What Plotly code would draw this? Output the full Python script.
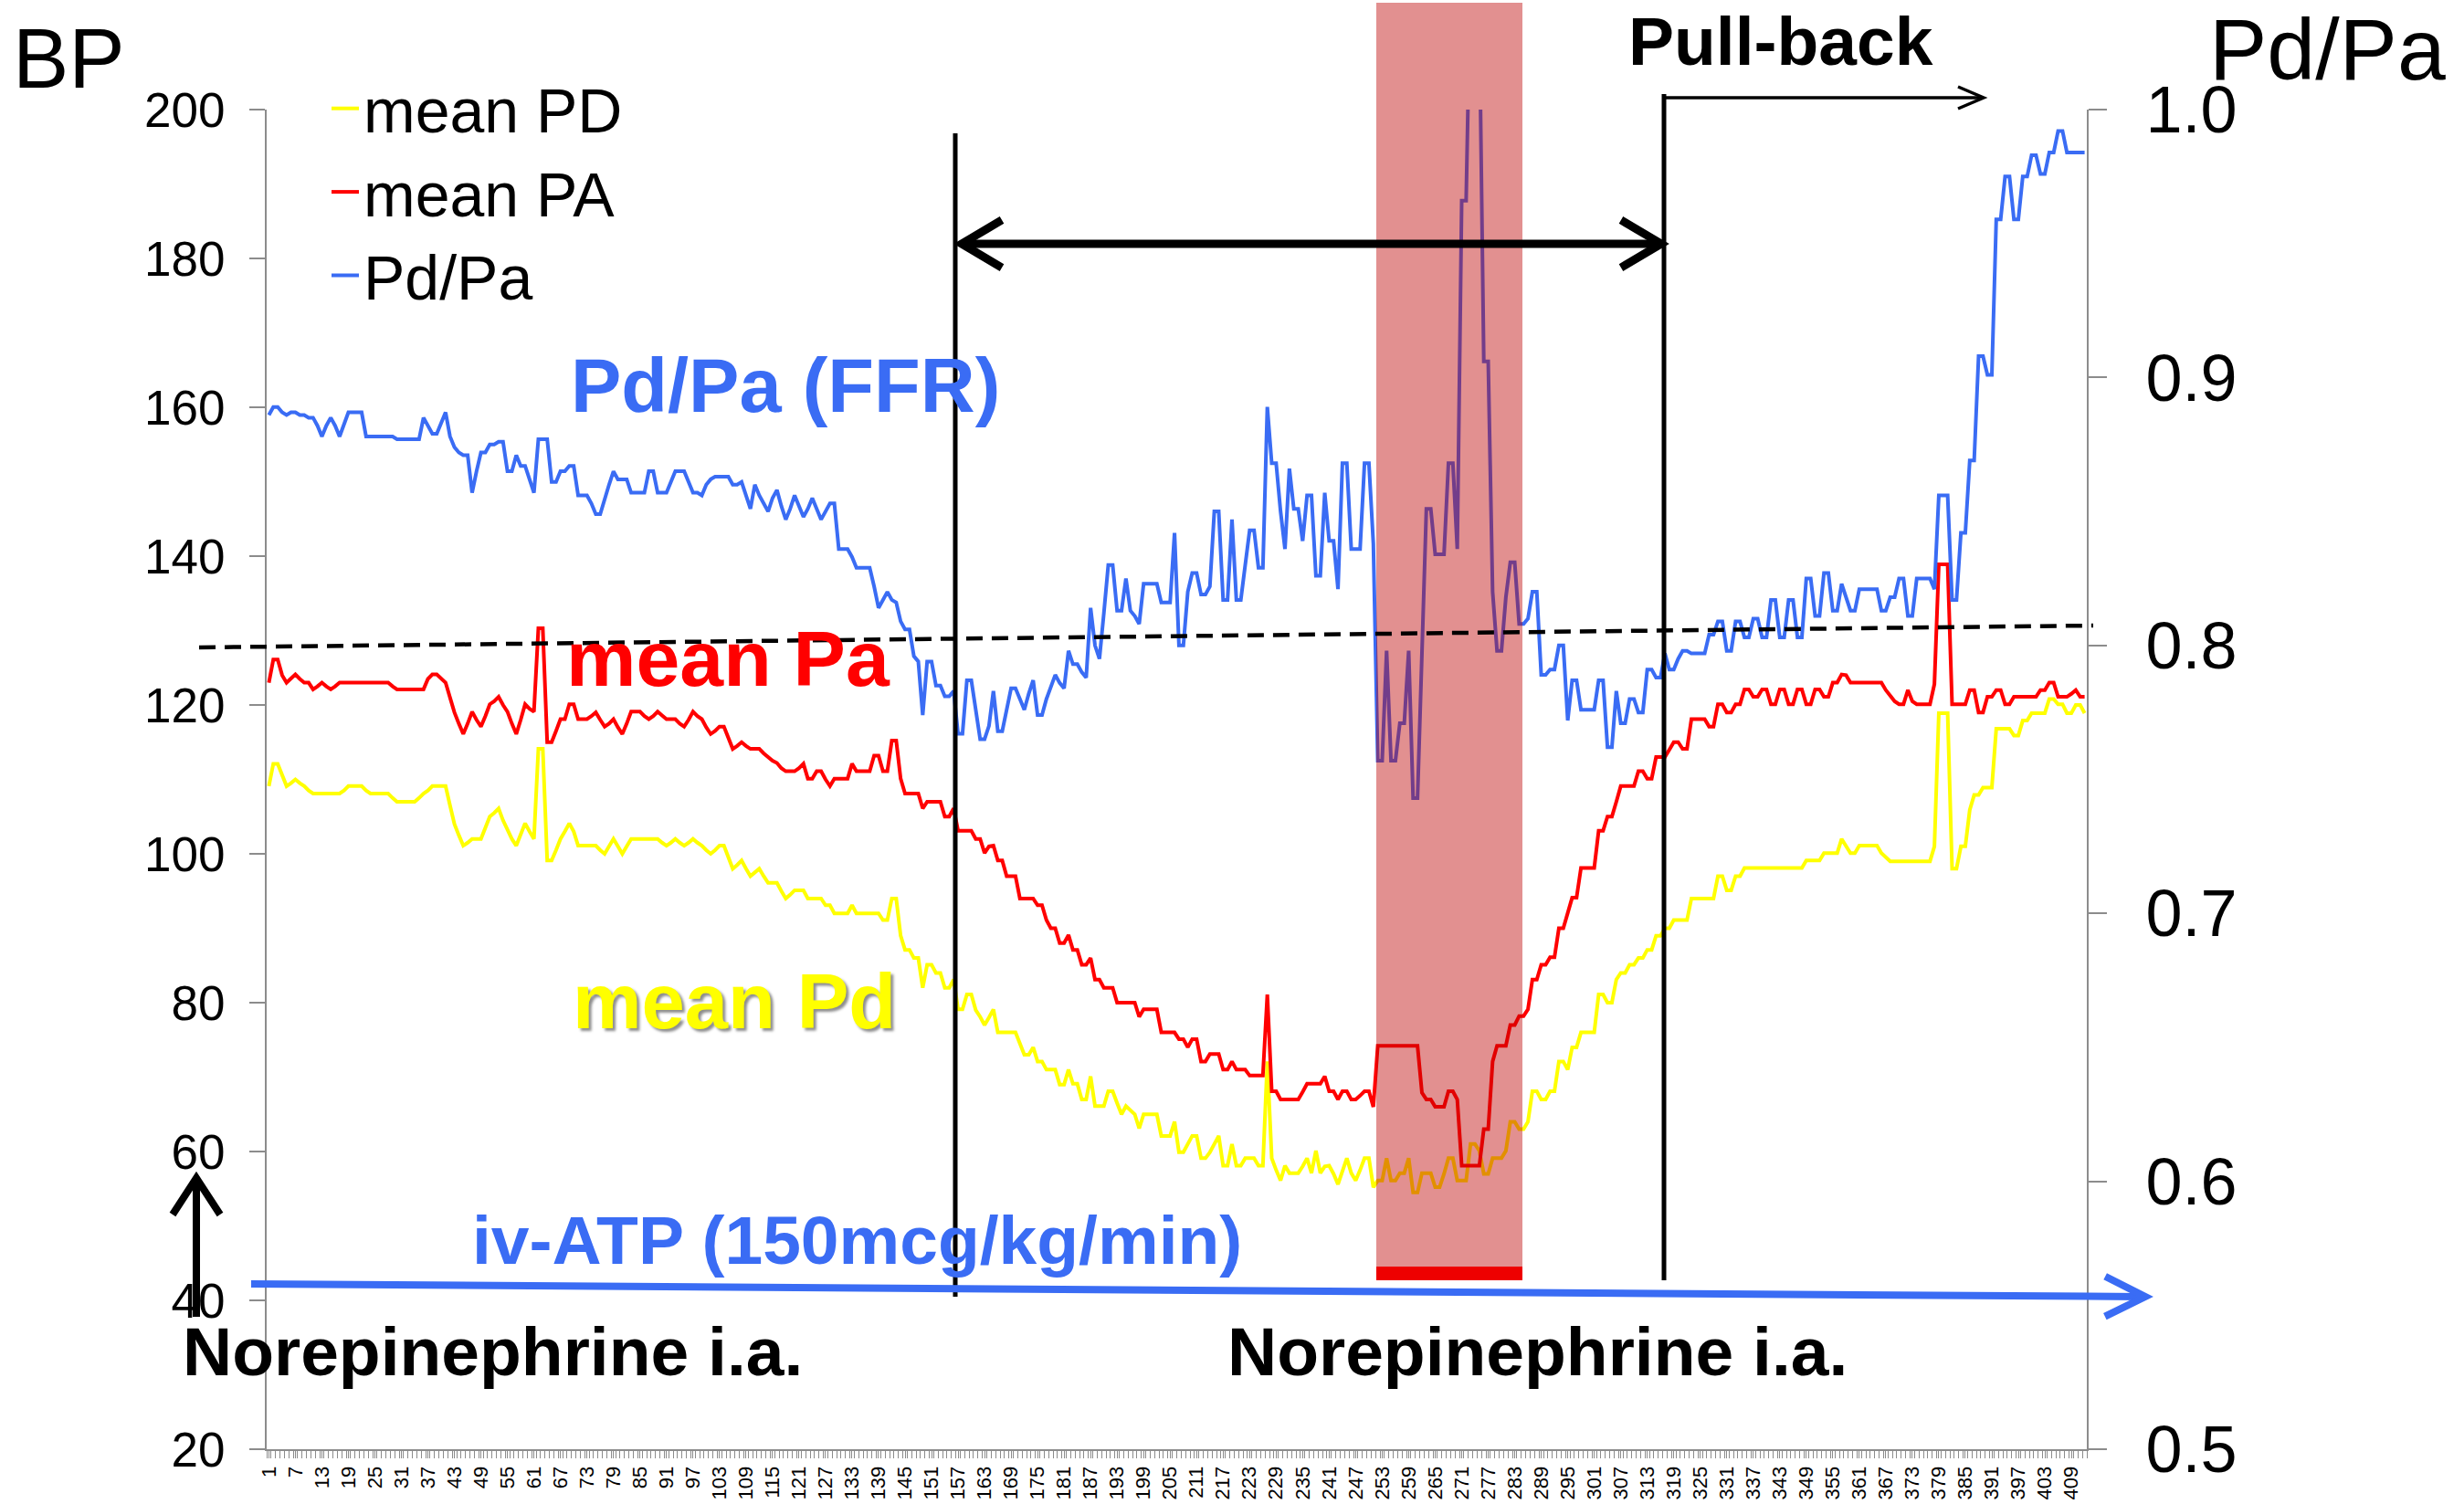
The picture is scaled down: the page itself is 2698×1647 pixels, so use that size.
import plotly.graph_objects as go

# ---------------- data ----------------
CATEGORIES = list(range(1, 413))
TICK_LABELS = [str(v) for v in range(1, 413, 6)]

PD_PA = [
    0.886, 0.889, 0.889, 0.887, 0.886, 0.887, 0.887, 0.886, 0.886, 0.885, 0.885, 0.882, 0.878, 0.882, 0.885, 0.882, 0.878, 0.883, 0.887, 0.887,
    0.887, 0.887, 0.878, 0.878, 0.878, 0.878, 0.878, 0.878, 0.878, 0.877, 0.877, 0.877, 0.877, 0.877, 0.877, 0.885, 0.882, 0.879, 0.879, 0.883,
    0.887, 0.878, 0.874, 0.872, 0.871, 0.871, 0.857, 0.865, 0.872, 0.872, 0.875, 0.875, 0.876, 0.876, 0.865, 0.865, 0.871, 0.867, 0.867, 0.862,
    0.857, 0.877, 0.877, 0.877, 0.861, 0.861, 0.865, 0.865, 0.867, 0.867, 0.856, 0.856, 0.856, 0.853, 0.849, 0.849, 0.855, 0.860, 0.865, 0.862,
    0.862, 0.862, 0.857, 0.857, 0.857, 0.857, 0.865, 0.865, 0.857, 0.857, 0.857, 0.861, 0.865, 0.865, 0.865, 0.861, 0.857, 0.857, 0.856, 0.860,
    0.862, 0.863, 0.863, 0.863, 0.863, 0.860, 0.860, 0.861, 0.856, 0.851, 0.860, 0.856, 0.853, 0.850, 0.855, 0.858, 0.852, 0.847, 0.851, 0.856,
    0.852, 0.848, 0.851, 0.855, 0.851, 0.847, 0.850, 0.853, 0.853, 0.836, 0.836, 0.836, 0.833, 0.829, 0.829, 0.829, 0.829, 0.822, 0.814, 0.817,
    0.820, 0.817, 0.816, 0.809, 0.806, 0.806, 0.796, 0.794, 0.774, 0.794, 0.794, 0.785, 0.785, 0.781, 0.781, 0.783, 0.767, 0.767, 0.787, 0.787,
    0.776, 0.765, 0.765, 0.770, 0.783, 0.768, 0.768, 0.776, 0.784, 0.784, 0.780, 0.776, 0.782, 0.787, 0.774, 0.774, 0.780, 0.785, 0.789, 0.786,
    0.784, 0.798, 0.793, 0.793, 0.790, 0.788, 0.814, 0.800, 0.795, 0.812, 0.830, 0.830, 0.813, 0.813, 0.825, 0.813, 0.811, 0.808, 0.823, 0.823,
    0.823, 0.823, 0.816, 0.816, 0.816, 0.842, 0.800, 0.800, 0.820, 0.827, 0.827, 0.819, 0.819, 0.822, 0.850, 0.850, 0.817, 0.817, 0.847, 0.817,
    0.817, 0.830, 0.843, 0.843, 0.829, 0.829, 0.889, 0.868, 0.868, 0.850, 0.836, 0.866, 0.851, 0.851, 0.839, 0.856, 0.856, 0.826, 0.826, 0.857,
    0.839, 0.839, 0.821, 0.868, 0.868, 0.836, 0.836, 0.836, 0.868, 0.868, 0.838, 0.757, 0.757, 0.798, 0.757, 0.757, 0.771, 0.771, 0.798, 0.743,
    0.743, 0.800, 0.851, 0.851, 0.834, 0.834, 0.834, 0.868, 0.868, 0.836, 0.966, 0.966, 1.050, 1.050, 1.034, 0.906, 0.906, 0.820, 0.798, 0.798,
    0.818, 0.831, 0.831, 0.808, 0.808, 0.810, 0.820, 0.820, 0.789, 0.789, 0.791, 0.791, 0.800, 0.800, 0.772, 0.787, 0.787, 0.776, 0.776, 0.776,
    0.776, 0.787, 0.787, 0.762, 0.762, 0.783, 0.771, 0.771, 0.780, 0.780, 0.775, 0.775, 0.791, 0.791, 0.788, 0.788, 0.797, 0.791, 0.791, 0.795,
    0.798, 0.798, 0.797, 0.797, 0.797, 0.797, 0.804, 0.804, 0.809, 0.809, 0.798, 0.798, 0.809, 0.809, 0.803, 0.803, 0.810, 0.810, 0.803, 0.803,
    0.817, 0.817, 0.803, 0.803, 0.817, 0.817, 0.803, 0.803, 0.825, 0.825, 0.811, 0.811, 0.827, 0.827, 0.813, 0.813, 0.823, 0.818, 0.813, 0.813,
    0.821, 0.821, 0.821, 0.821, 0.821, 0.813, 0.813, 0.818, 0.818, 0.825, 0.825, 0.811, 0.811, 0.825, 0.825, 0.825, 0.825, 0.821, 0.856, 0.856,
    0.856, 0.817, 0.817, 0.842, 0.842, 0.869, 0.869, 0.908, 0.908, 0.901, 0.901, 0.959, 0.959, 0.975, 0.975, 0.959, 0.959, 0.975, 0.975, 0.983,
    0.983, 0.976, 0.976, 0.984, 0.984, 0.992, 0.992, 0.984, 0.984, 0.984, 0.984, 0.984,
]

MEAN_PA = [
    123.0, 126.1, 126.1, 124.0, 123.0, 123.5, 124.1, 123.5, 123.0, 123.0, 122.1, 122.5, 123.0, 122.5, 122.1, 122.5, 123.0, 123.0, 123.0, 123.0,
    123.0, 123.0, 123.0, 123.0, 123.0, 123.0, 123.0, 123.0, 122.5, 122.1, 122.1, 122.1, 122.1, 122.1, 122.1, 122.1, 123.5, 124.1, 124.1, 123.5,
    123.0, 121.0, 119.0, 117.5, 116.1, 117.5, 119.1, 118.0, 117.1, 118.5, 120.1, 120.5, 121.1, 120.0, 119.1, 117.5, 116.1, 118.0, 120.1, 119.5,
    119.1, 130.3, 130.3, 115.0, 115.0, 116.5, 118.1, 118.1, 120.1, 120.1, 118.1, 118.1, 118.1, 118.5, 119.0, 118.0, 117.1, 117.5, 118.1, 117.0,
    116.1, 117.5, 119.1, 119.1, 119.1, 118.5, 118.1, 118.5, 119.1, 118.6, 118.1, 118.1, 118.1, 117.5, 117.1, 118.0, 119.1, 118.5, 118.1, 117.0,
    116.1, 116.5, 117.1, 117.1, 115.5, 114.1, 114.5, 115.0, 114.5, 114.1, 114.1, 114.1, 113.5, 113.0, 112.5, 112.2, 111.5, 111.1, 111.1, 111.1,
    111.5, 112.1, 110.1, 110.1, 111.1, 111.1, 110.0, 109.1, 110.1, 110.1, 110.1, 110.1, 112.1, 111.1, 111.1, 111.1, 111.1, 113.2, 113.2, 111.1,
    111.1, 115.2, 115.2, 110.1, 108.1, 108.1, 108.1, 108.1, 106.1, 107.0, 107.0, 107.0, 107.0, 105.0, 105.0, 106.1, 103.1, 103.1, 103.1, 103.1,
    102.0, 102.0, 100.1, 101.0, 101.1, 99.1, 99.1, 97.0, 97.0, 97.0, 94.0, 94.0, 94.0, 94.0, 93.1, 93.1, 91.1, 90.0, 90.0, 88.0,
    88.0, 89.1, 87.1, 87.1, 85.1, 85.1, 86.0, 83.1, 83.1, 82.0, 82.0, 82.0, 80.0, 80.0, 80.0, 80.0, 80.0, 78.1, 79.1, 79.1,
    79.1, 79.1, 76.0, 76.0, 76.0, 76.0, 75.1, 75.1, 74.0, 75.1, 75.1, 72.1, 72.1, 73.1, 73.1, 73.1, 71.0, 71.0, 72.1, 71.0,
    71.0, 71.0, 70.2, 70.2, 70.2, 70.2, 81.1, 68.1, 68.1, 67.0, 67.0, 67.0, 67.0, 67.0, 68.0, 69.1, 69.1, 69.1, 69.1, 70.1,
    68.1, 68.1, 67.0, 68.1, 68.1, 67.0, 67.0, 67.5, 68.1, 68.1, 66.0, 74.2, 74.2, 74.2, 74.2, 74.2, 74.2, 74.2, 74.2, 74.2,
    74.2, 67.9, 67.0, 67.0, 66.0, 66.0, 66.0, 68.1, 68.1, 67.0, 58.1, 58.1, 58.1, 58.1, 58.1, 63.0, 63.0, 72.1, 74.2, 74.2,
    74.2, 77.0, 77.0, 78.2, 78.2, 79.1, 83.1, 83.1, 85.1, 85.1, 86.1, 86.1, 90.0, 90.0, 92.0, 94.1, 94.1, 98.1, 98.1, 98.1,
    98.1, 103.1, 103.1, 105.0, 105.0, 107.0, 109.1, 109.1, 109.1, 109.1, 111.1, 111.1, 110.1, 110.1, 113.0, 113.0, 113.0, 114.0, 115.0, 115.0,
    114.1, 114.1, 118.1, 118.1, 118.1, 118.1, 117.1, 117.1, 120.1, 120.1, 119.0, 119.0, 120.1, 120.1, 122.1, 122.1, 121.1, 121.1, 122.1, 122.1,
    120.1, 120.1, 122.1, 122.1, 120.1, 120.1, 122.1, 122.1, 120.1, 120.1, 122.1, 122.1, 121.1, 121.1, 123.0, 123.0, 124.1, 124.0, 123.0, 123.0,
    123.0, 123.0, 123.0, 123.0, 123.0, 123.0, 122.0, 121.3, 120.5, 120.1, 120.1, 122.0, 120.5, 120.1, 120.1, 120.1, 120.1, 122.8, 138.9, 138.9,
    138.9, 120.1, 120.1, 120.1, 120.1, 122.0, 122.0, 119.0, 119.0, 121.1, 121.1, 122.0, 122.0, 120.1, 120.1, 121.1, 121.1, 121.1, 121.1, 121.1,
    121.1, 122.0, 122.0, 123.0, 123.0, 121.1, 121.1, 121.1, 121.5, 122.0, 121.1, 121.1,
]

MEAN_PD = [
    109.1, 112.1, 112.1, 110.5, 109.1, 109.5, 110.0, 109.5, 109.1, 108.5, 108.1, 108.1, 108.1, 108.1, 108.1, 108.1, 108.1, 108.5, 109.1, 109.1,
    109.1, 109.1, 108.5, 108.1, 108.1, 108.1, 108.1, 108.1, 107.5, 107.0, 107.0, 107.0, 107.0, 107.0, 107.5, 108.1, 108.5, 109.1, 109.1, 109.1,
    109.1, 106.5, 104.0, 102.5, 101.1, 101.5, 102.0, 102.0, 102.0, 103.5, 105.0, 105.5, 106.1, 104.5, 103.1, 102.0, 101.1, 102.5, 104.1, 103.0,
    102.0, 114.1, 114.1, 99.1, 99.1, 100.5, 102.0, 103.0, 104.1, 103.0, 101.1, 101.1, 101.1, 101.1, 101.1, 100.5, 100.0, 101.0, 102.0, 101.0,
    100.0, 101.0, 102.0, 102.0, 102.0, 102.0, 102.0, 102.0, 102.0, 101.5, 101.1, 101.5, 102.0, 101.5, 101.1, 101.5, 102.0, 101.5, 101.1, 100.5,
    100.0, 100.5, 101.1, 101.1, 99.5, 98.0, 98.5, 99.1, 98.0, 97.0, 97.5, 98.0, 97.0, 96.1, 96.1, 96.1, 95.0, 94.0, 94.5, 95.1,
    95.1, 95.1, 94.0, 94.0, 94.0, 94.0, 93.1, 93.1, 92.0, 92.0, 92.0, 92.0, 93.1, 92.0, 92.0, 92.0, 92.0, 92.0, 92.0, 91.1,
    91.1, 94.0, 94.0, 89.0, 87.1, 87.1, 86.0, 86.0, 82.0, 85.1, 85.1, 84.0, 84.0, 82.0, 82.0, 83.1, 79.1, 79.1, 81.1, 81.1,
    79.0, 78.1, 77.0, 78.0, 79.1, 76.0, 76.0, 76.0, 76.0, 76.0, 74.5, 73.0, 73.0, 74.0, 72.1, 72.1, 71.0, 71.0, 71.0, 69.0,
    69.0, 71.0, 69.1, 69.1, 67.0, 67.0, 70.1, 66.1, 66.1, 66.1, 68.1, 68.1, 66.5, 65.0, 66.1, 65.5, 65.0, 63.1, 65.0, 65.0,
    65.0, 65.0, 62.1, 62.1, 62.1, 64.0, 59.9, 59.9, 61.0, 62.1, 62.1, 59.1, 59.1, 59.9, 61.0, 62.1, 58.1, 58.1, 61.0, 58.1,
    58.1, 59.1, 59.1, 59.1, 58.1, 58.1, 72.1, 59.1, 57.5, 56.1, 58.1, 57.1, 57.1, 57.1, 58.0, 59.1, 57.1, 60.1, 57.1, 58.0,
    58.1, 57.0, 55.6, 57.5, 59.1, 57.1, 56.1, 57.5, 59.1, 59.1, 55.2, 56.1, 56.1, 59.1, 56.1, 56.1, 57.1, 57.1, 59.1, 54.5,
    54.5, 57.1, 57.1, 57.1, 55.2, 55.2, 57.0, 59.1, 59.1, 56.1, 56.1, 56.1, 61.0, 61.0, 60.1, 57.0, 57.0, 59.1, 59.1, 59.1,
    60.1, 64.0, 64.0, 63.0, 63.0, 64.0, 68.1, 68.1, 67.0, 67.0, 68.1, 68.1, 72.1, 72.1, 71.0, 74.0, 74.0, 76.0, 76.0, 76.0,
    76.0, 81.1, 81.1, 80.0, 80.0, 83.1, 84.0, 84.0, 85.1, 85.1, 86.0, 86.0, 87.1, 87.1, 89.0, 89.0, 90.0, 90.0, 91.1, 91.1,
    91.1, 91.1, 94.0, 94.0, 94.0, 94.0, 94.0, 94.0, 97.0, 97.0, 95.1, 95.1, 97.0, 97.0, 98.1, 98.1, 98.1, 98.1, 98.1, 98.1,
    98.1, 98.1, 98.1, 98.1, 98.1, 98.1, 98.1, 98.1, 99.1, 99.1, 99.1, 99.1, 100.1, 100.1, 100.1, 100.1, 102.0, 101.0, 100.1, 100.1,
    101.1, 101.1, 101.1, 101.1, 101.1, 100.1, 99.5, 99.0, 99.0, 99.0, 99.0, 99.0, 99.0, 99.0, 99.0, 99.0, 99.0, 101.0, 118.9, 118.9,
    118.9, 98.0, 98.0, 101.0, 101.0, 105.9, 107.9, 107.9, 108.9, 108.9, 108.9, 116.8, 116.8, 116.8, 116.8, 115.9, 115.9, 117.9, 117.9, 118.9,
    118.9, 118.9, 118.9, 120.8, 120.8, 120.1, 120.1, 118.9, 118.9, 120.0, 120.0, 118.9,
]

assert len(PD_PA) == len(MEAN_PA) == len(MEAN_PD) == len(CATEGORIES)

# ---------------- geometry helpers (pixel -> paper) ----------------
W, H = 2698, 1647
X0, X1, Y0, Y1 = 292, 2285, 120, 1587  # plot area in pixels


def px(x):
    return (x - X0) / (X1 - X0)


def py(y):
    return (Y1 - y) / (Y1 - Y0)


def seg(x0, y0, x1, y1, color, width, dash=None):
    return dict(type="line", xref="paper", yref="paper",
                x0=px(x0), y0=py(y0), x1=px(x1), y1=py(y1),
                line=dict(color=color, width=width, dash=dash))


def head(xt, yt, xf, yf, length, half, color, width):
    # chevron head at tip (xt, yt) pointing away from (xf, yf)
    dx, dy = xt - xf, yt - yf
    n = (dx * dx + dy * dy) ** 0.5
    ux, uy = dx / n, dy / n
    bx, by = xt - ux * length, yt - uy * length
    nx, ny = -uy, ux
    a = (bx + nx * half, by + ny * half)
    b = (bx - nx * half, by - ny * half)
    path = "M {:.5f},{:.5f} L {:.5f},{:.5f} L {:.5f},{:.5f}".format(
        px(a[0]), py(a[1]), px(xt), py(yt), px(b[0]), py(b[1]))
    return dict(type="path", xref="paper", yref="paper", path=path,
                line=dict(color=color, width=width))


BLUE = "#3a6cf4"
FONT = "Liberation Sans, Arial, sans-serif"

fig = go.Figure()
fig.add_trace(go.Scatter(x=CATEGORIES, y=MEAN_PD, mode="lines", name="mean PD",
                         line=dict(color="#ffff00", width=4)))
fig.add_trace(go.Scatter(x=CATEGORIES, y=MEAN_PA, mode="lines", name="mean PA",
                         line=dict(color="#ff0000", width=4)))
fig.add_trace(go.Scatter(x=CATEGORIES, y=PD_PA, mode="lines", name="Pd/Pa", yaxis="y2",
                         line=dict(color=BLUE, width=4)))

shapes = []
# shaded period
shapes.append(dict(type="rect", xref="paper", yref="paper",
                   x0=px(1507), x1=px(1667), y0=py(1390), y1=py(3),
                   fillcolor="rgba(188,0,0,0.435)", line=dict(width=0), layer="above"))
shapes.append(dict(type="rect", xref="paper", yref="paper",
                   x0=px(1507), x1=px(1667), y0=py(1402), y1=py(1387),
                   fillcolor="#ee0000", line=dict(width=0), layer="above"))
# dashed reference line
shapes.append(seg(218, 709, 2292, 685, "black", 4.5, dash="18px,10px"))
# vertical markers
shapes.append(seg(1046, 146, 1046, 1420, "black", 5))
shapes.append(seg(1822, 103, 1822, 1402, "black", 5))
# double arrow
shapes.append(seg(1056, 267, 1816, 267, "black", 9))
shapes.append(head(1053, 267, 1819, 267, 44, 26, "black", 9))
shapes.append(head(1819, 267, 1053, 267, 44, 26, "black", 9))
# pull-back arrow
shapes.append(seg(1822, 107, 2170, 107, "black", 3.5))
shapes.append(head(2172, 107, 1822, 107, 28, 12, "black", 3.5))
# up arrow (norepinephrine)
shapes.append(seg(215, 1442, 215, 1294, "black", 8))
shapes.append(head(215, 1290, 215, 1442, 40, 26, "black", 8))
# iv-ATP arrow
shapes.append(seg(275, 1406, 2344, 1420, BLUE, 8))
shapes.append(head(2349, 1420, 275, 1406, 44, 22, BLUE, 8))


def ann(text, x, y, size, color="black", bold=True, shadow=None, family=FONT):
    f = dict(family=family, size=size, color=color, weight="bold" if bold else "normal")
    if shadow:
        f["shadow"] = shadow
    return dict(text=text, xref="paper", yref="paper", x=px(x), y=py(y),
                xanchor="center", yanchor="middle", showarrow=False, font=f)


annotations = [
    ann("BP", 75, 64, 92, bold=False),
    ann("Pd/Pa", 2548, 54, 95, bold=False),
    ann("Pd/Pa (FFR)", 860, 422, 83, color=BLUE),
    ann("mean Pa", 797, 721, 86, color="#ff0000"),
    ann("mean Pd", 804, 1096, 85, color="#ffff00", shadow="3px 3px 3px rgba(0,0,0,0.45)"),
    ann("iv-ATP (150mcg/kg/min)", 938, 1358, 75, color=BLUE),
    ann("Norepinephrine i.a.", 539, 1480, 75),
    ann("Norepinephrine i.a.", 1683, 1480, 75),
    ann("Pull-back", 1950, 45, 75),
]

AXIS_GRAY = "#8c8c8c"

fig.update_layout(
    width=W, height=H,
    margin=dict(l=X0, r=W - X1, t=Y0, b=H - Y1, pad=0, autoexpand=False),
    paper_bgcolor="white", plot_bgcolor="white",
    font=dict(family=FONT, color="black"),
    showlegend=True,
    legend=dict(x=px(358), y=py(68), xanchor="left", yanchor="top",
                bgcolor="rgba(0,0,0,0)", font=dict(size=68, family=FONT, color="black"),
                tracegroupgap=0, itemwidth=30),
    xaxis=dict(range=[0.5, 412.5], showgrid=False, zeroline=False, automargin=False,
               tickmode="array", tickvals=[int(t) for t in TICK_LABELS], ticktext=TICK_LABELS,
               tickangle=-90, tickfont=dict(size=22, family=FONT, color="black"),
               ticks="outside", ticklen=8, tickcolor=AXIS_GRAY, tickwidth=1,
               minor=dict(tickmode="linear", tick0=0.5, dtick=1, ticks="outside",
                          ticklen=8, tickcolor=AXIS_GRAY, tickwidth=1, showgrid=False),
               showline=True, linecolor=AXIS_GRAY, linewidth=2),
    yaxis=dict(range=[20, 200], dtick=20, tick0=20, showgrid=False, zeroline=False,
               automargin=False,
               ticks="outside", ticklen=17, tickcolor=AXIS_GRAY, tickwidth=2,
               showline=True, linecolor=AXIS_GRAY, linewidth=2,
               tickfont=dict(size=53, family=FONT, color="black"), ticklabelstandoff=16),
    yaxis2=dict(range=[0.5, 1.0], dtick=0.1, tick0=0.5, tickformat=".1f", overlaying="y",
                side="right", showgrid=False, zeroline=False, automargin=False,
                ticks="outside", ticklen=20, tickcolor=AXIS_GRAY, tickwidth=2,
                showline=True, linecolor=AXIS_GRAY, linewidth=2,
                tickfont=dict(size=72, family=FONT, color="black"), ticklabelstandoff=28),
    shapes=shapes,
    annotations=annotations,
)

fig.write_html("out.html")
